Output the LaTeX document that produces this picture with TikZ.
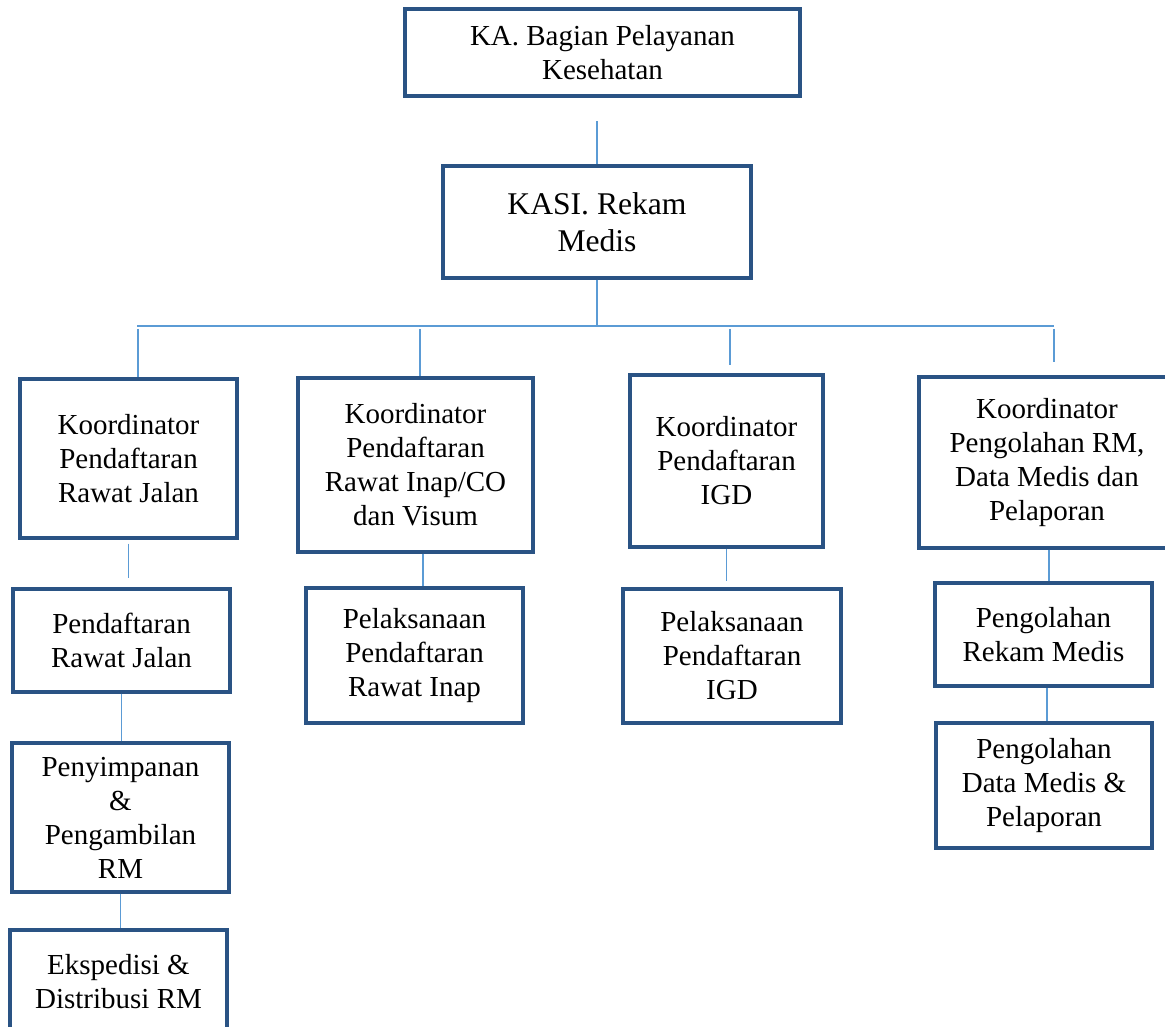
\documentclass[tikz,border=0pt]{standalone}
\usepackage{fontspec}
\setmainfont{Liberation Serif}
\usepackage{tikz}
\usetikzlibrary{calc}
\definecolor{boxblue}{HTML}{2A5384}
\definecolor{linkblue}{HTML}{5B9BD5}
\tikzstyle{box}=[draw=boxblue, line width=2.4pt, inner sep=0pt, align=center, font=\fontsize{21.75}{25.5}\selectfont]
\tikzstyle{bigbox}=[box, font=\fontsize{23.7}{27.75}\selectfont]
\tikzstyle{link}=[draw=linkblue, line width=0.8pt]
\tikzset{boxsize/.style 2 args={minimum width=#1*0.75pt, minimum height=#2*0.75pt}}

\begin{document}
\begin{tikzpicture}[x=0.75pt,y=-0.75pt]
\useasboundingbox (0,0) rectangle (1165,1027);
\clip (0,0) rectangle (1165,1027);

\node[box, boxsize={395}{87}] (ka) at (602.5,52.5) {KA. Bagian Pelayanan\\Kesehatan};
\node[bigbox, boxsize={308}{112}] (kasi) at (597,222) {KASI. Rekam\\Medis};

\node[box, boxsize={217}{159}] (krj) at (128.5,458.5) {Koordinator\\Pendaftaran\\Rawat Jalan};
\node[box, boxsize={235}{174}] (kri) at (415.5,465) {Koordinator\\Pendaftaran\\Rawat Inap/CO\\dan Visum};
\node[box, boxsize={193}{172}] (kigd) at (726.5,461) {Koordinator\\Pendaftaran\\IGD};
\node[box, boxsize={256}{171}] (kpeng) at (1047,462.5) {Koordinator\\Pengolahan RM,\\Data Medis dan\\Pelaporan};

\node[box, boxsize={217}{103}] (prj) at (121.5,640.5) {Pendaftaran\\Rawat Jalan};
\node[box, boxsize={217}{149}] (psim) at (120.5,817.5) {Penyimpanan\\\&\\Pengambilan\\RM};
\node[box, boxsize={217}{104}] (eksp) at (118.5,982) {Ekspedisi \&\\Distribusi RM};

\node[box, boxsize={217}{135}] (pri) at (414.5,655.5) {Pelaksanaan\\Pendaftaran\\Rawat Inap};
\node[box, boxsize={218}{134}] (pigd) at (732,656) {Pelaksanaan\\Pendaftaran\\IGD};

\node[box, boxsize={217}{103}] (prm) at (1043.5,634.5) {Pengolahan\\Rekam Medis};
\node[box, boxsize={216}{125}] (pdm) at (1044,785.5) {Pengolahan\\Data Medis \&\\Pelaporan};

\coordinate (busL) at (137,326);
\coordinate (busR) at (1054,326);

\draw[link, shorten >=17.25pt] (kasi.north) -- (kasi.north |- ka.south);
\draw[link] (kasi.south) -- (kasi.south |- busL);
\draw[link] (busL) -- (busR);
\foreach \n/\x/\s in {krj/138/0, kri/420/0, kigd/730/8, kpeng/1054/13}
	\draw[link, shorten >=\s*0.75pt] (\x,329) -- (\x,0 |- \n.north);

\draw[link, shorten <=3pt, shorten >=6.75pt] (krj.south) -- (krj.south |- prj.north);
\draw[link] (prj.south) -- (prj.south |- psim.north);
\draw[link] (psim.south) -- (psim.south |- eksp.north);
\draw[link] (423,0 |- kri.south) -- (423,0 |- pri.north);
\draw[link, shorten >=4.5pt] (kigd.south) -- (kigd.south |- pigd.north);
\draw[link] (1049,0 |- kpeng.south) -- (1049,0 |- prm.north);
\draw[link] (1047,0 |- prm.south) -- (1047,0 |- pdm.north);
\end{tikzpicture}
\end{document}
